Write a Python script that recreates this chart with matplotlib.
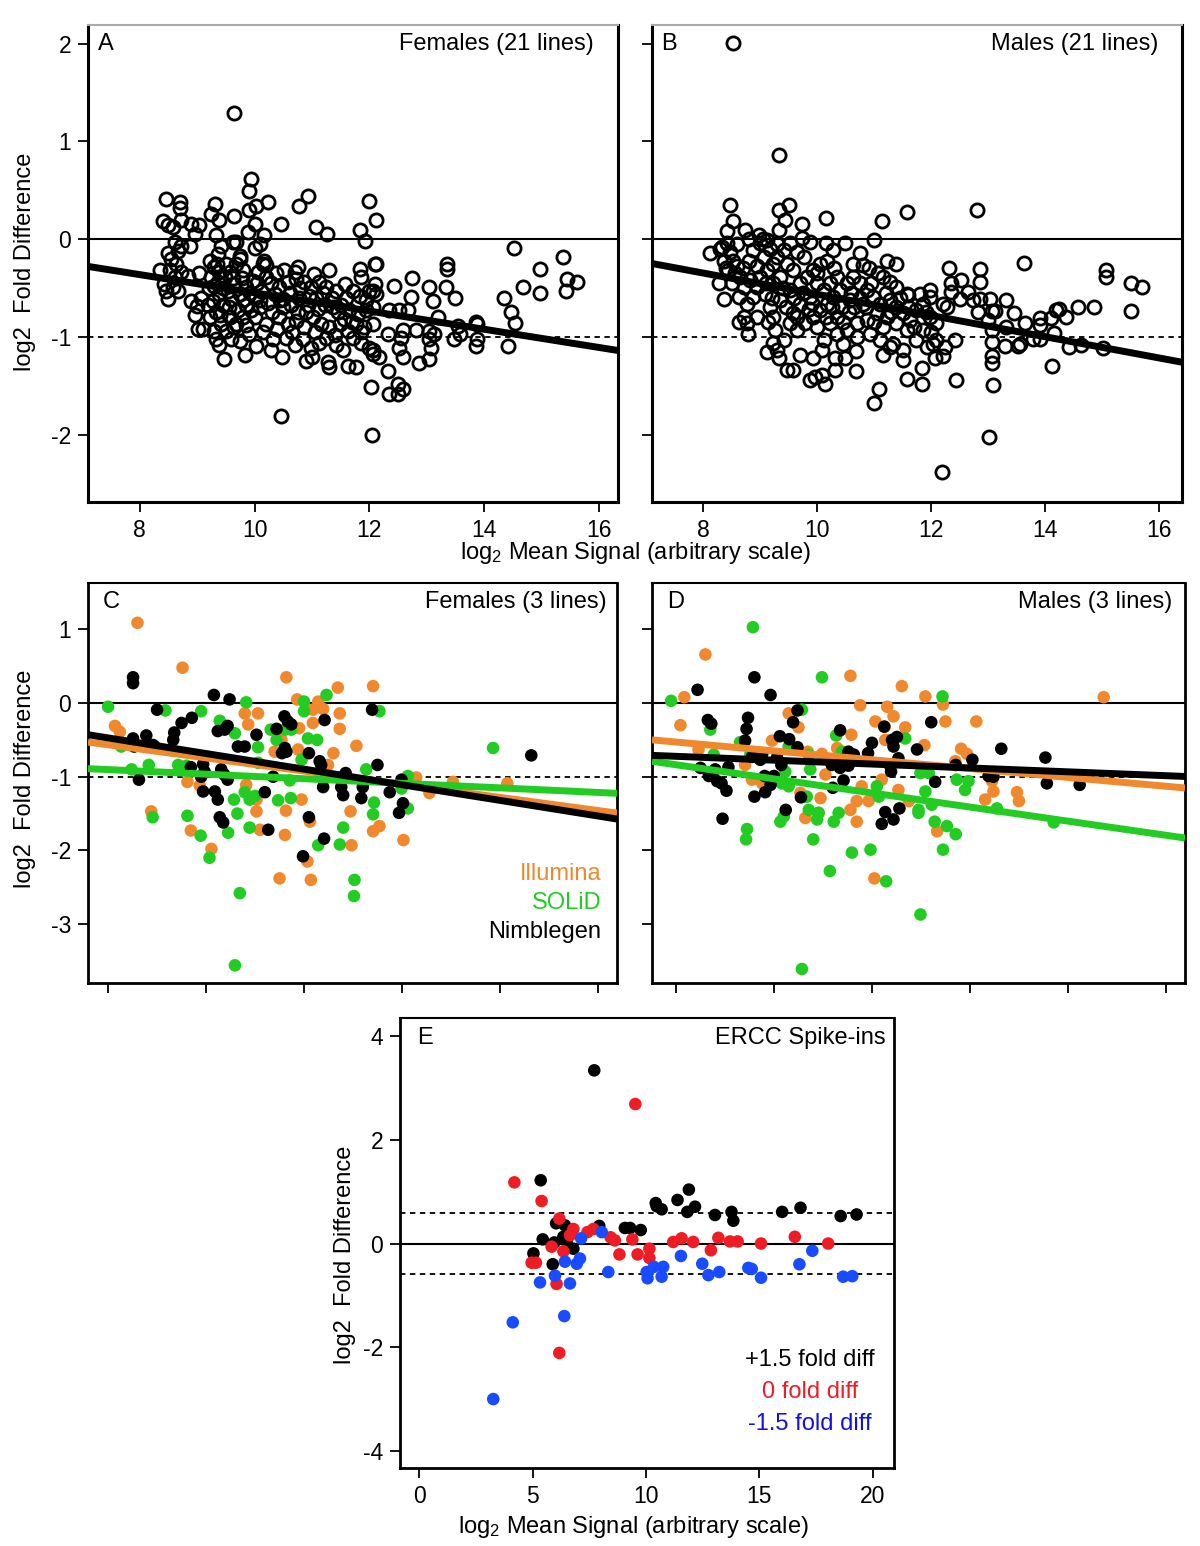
import matplotlib
matplotlib.use('Agg')
import matplotlib.pyplot as plt
import numpy as np

plt.rcParams['font.family'] = ['Liberation Sans', 'DejaVu Sans']
plt.rcParams['mathtext.fontset'] = 'custom'
plt.rcParams['mathtext.rm'] = 'Liberation Sans'
plt.rcParams['mathtext.it'] = 'Liberation Sans:italic'
plt.rcParams['axes.unicode_minus'] = False

# ---------------- Panel A: Females (21 lines) ----------------
females21 = [
    (9.64, 1.29), (9.93, 0.61), (9.90, 0.49), (8.45, 0.41), (8.70, 0.38), (8.70, 0.32),
    (9.32, 0.36), (10.23, 0.38), (10.93, 0.44), (10.77, 0.34), (12.00, 0.39), (9.25, 0.26),
    (9.39, 0.20), (9.64, 0.24), (9.91, 0.30), (10.03, 0.34), (10.46, 0.15), (8.41, 0.18),
    (8.49, 0.14), (8.58, 0.12), (8.72, 0.19), (8.90, 0.15), (9.04, 0.14), (8.96, 0.05),
    (9.33, 0.04), (10.00, 0.15), (9.88, 0.07), (10.17, 0.04), (11.07, 0.12), (11.26, 0.05),
    (11.83, 0.09), (11.92, -0.02), (12.12, 0.19), (8.61, -0.03), (8.72, -0.07), (8.49, -0.14),
    (8.88, -0.07), (9.42, -0.07), (9.62, -0.03), (9.68, -0.03), (10.00, -0.09), (10.09, -0.05),
    (9.36, -0.15), (9.74, -0.17), (8.35, -0.32), (8.52, -0.32), (8.64, -0.26), (8.43, -0.46),
    (8.58, -0.49), (8.49, -0.61), (8.67, -0.53), (8.84, -0.38), (9.03, -0.35), (8.90, -0.63),
    (8.96, -0.78), (9.01, -0.92), (9.10, -0.92), (9.22, -0.80), (9.33, -1.02), (9.39, -1.08),
    (9.47, -1.23), (9.83, -1.19), (10.02, -1.09), (10.29, -1.13), (10.48, -1.21), (10.46, -1.81),
    (10.89, -1.25), (11.00, -1.21), (11.28, -1.26), (11.30, -1.31), (11.62, -1.30), (11.76, -1.31),
    (12.03, -1.51), (12.05, -2.00), (11.83, -0.31), (11.86, -0.39), (12.09, -0.26), (11.30, -0.32),
    (11.04, -0.36), (10.52, -0.32), (10.75, -0.29), (10.70, -0.34), (10.17, -0.22), (10.20, -0.27),
    (8.55, -0.20), (8.67, -0.12), (8.61, -0.39), (8.46, -0.53), (8.72, -0.34),
    (14.52, -0.09), (15.37, -0.18), (14.97, -0.31), (15.45, -0.41), (15.62, -0.44), (15.42, -0.53),
    (14.67, -0.49), (14.97, -0.55), (14.35, -0.60), (14.46, -0.75), (14.53, -0.86), (14.42, -1.09),
    (13.35, -0.25), (13.35, -0.31), (13.34, -0.49), (13.49, -0.60), (13.04, -0.49), (13.10, -0.63),
    (12.75, -0.40), (12.72, -0.59), (12.43, -0.48), (12.12, -0.25), (12.09, -0.46), (12.06, -0.53),
    (13.19, -0.80), (13.86, -0.85), (13.87, -1.02), (13.86, -1.09), (13.48, -1.02), (13.57, -0.97),
    (13.04, -0.94), (13.13, -0.97), (13.04, -1.02), (13.07, -1.11), (13.03, -1.23), (12.81, -0.93),
    (12.58, -0.93), (12.55, -1.01), (12.52, -1.11), (12.58, -1.21), (12.32, -0.97), (12.17, -1.21),
    (12.06, -1.14), (12.32, -1.35), (12.49, -1.48), (12.59, -1.53), (12.35, -1.59), (12.49, -1.59),
    (12.86, -1.27), (12.35, -0.73), (12.52, -0.73), (12.67, -0.73), (13.54, -0.89), (13.88, -0.87),
    # dense cluster
    (9.22, -0.22), (9.30, -0.29), (9.39, -0.34), (9.25, -0.39), (9.36, -0.44), (9.48, -0.39),
    (9.57, -0.34), (9.68, -0.26), (9.74, -0.20), (9.80, -0.32), (9.65, -0.46), (9.54, -0.53),
    (9.39, -0.56), (9.28, -0.63), (9.45, -0.67), (9.59, -0.61), (9.74, -0.56), (9.86, -0.49),
    (9.97, -0.43), (10.06, -0.34), (10.14, -0.26), (10.20, -0.39), (10.12, -0.53), (10.00, -0.60),
    (9.86, -0.67), (9.71, -0.73), (9.57, -0.80), (9.42, -0.87), (9.30, -0.94), (9.51, -0.94),
    (9.68, -0.87), (9.80, -0.80), (9.94, -0.73), (10.09, -0.70), (10.23, -0.65), (10.35, -0.56),
    (10.43, -0.49), (10.58, -0.44), (10.72, -0.41), (10.87, -0.44), (10.99, -0.49), (11.13, -0.44),
    (11.25, -0.49), (11.42, -0.53), (11.57, -0.46), (11.71, -0.53), (11.83, -0.58), (12.00, -0.53),
    (12.12, -0.56), (10.49, -0.61), (10.64, -0.67), (10.78, -0.60), (10.93, -0.67), (11.07, -0.60),
    (11.22, -0.67), (11.36, -0.70), (11.51, -0.67), (11.65, -0.73), (11.80, -0.77), (11.94, -0.73),
    (12.06, -0.70), (10.43, -0.80), (10.58, -0.87), (10.72, -0.84), (10.87, -0.90), (11.01, -0.80),
    (11.16, -0.87), (11.30, -0.90), (11.48, -0.87), (11.62, -0.94), (11.77, -0.87), (11.91, -0.90),
    (12.06, -0.87), (10.55, -1.01), (10.70, -1.08), (10.84, -1.02), (10.99, -1.11), (11.13, -1.06),
    (11.25, -1.01), (11.42, -1.08), (11.54, -1.13), (11.71, -1.01), (11.86, -1.06), (12.00, -1.11),
    (12.06, -1.18), (10.20, -0.87), (10.32, -1.02), (9.91, -0.97), (9.74, -1.04), (9.59, -1.02),
    (9.33, -0.75), (9.19, -0.67), (9.07, -0.60), (8.99, -0.68),
    (9.30, -0.48), (9.45, -0.50), (9.50, -0.25), (9.62, -0.40), (9.78, -0.40), (9.92, -0.55),
    (10.05, -0.45), (10.28, -0.45), (10.38, -0.35), (10.30, -0.75), (10.50, -0.70), (10.62, -0.55),
    (10.80, -0.50), (10.95, -0.58), (11.10, -0.72), (11.20, -0.55), (11.35, -0.60), (11.45, -0.75),
    (11.60, -0.60), (11.70, -0.85), (11.85, -0.95), (11.95, -0.62), (10.65, -0.95), (10.90, -0.75),
    (11.05, -0.95), (11.40, -0.98), (11.55, -0.82), (9.55, -0.70), (9.40, -0.78), (9.65, -0.90),
    (9.85, -0.88), (10.00, -0.80), (10.15, -0.95), (10.40, -0.92), (9.20, -0.50), (9.35, -0.25),
    (9.80, -0.62), (10.10, -0.62), (10.45, -0.62), (10.75, -0.75),
]
females21_fit = (0.382, -0.0932)  # intercept, slope

# ---------------- Panel B: Males (21 lines) ----------------
males21 = [
    (8.52, 2.01), (9.33, 0.86), (8.47, 0.35), (8.52, 0.18), (9.33, 0.30), (9.51, 0.35),
    (9.44, 0.19), (9.32, 0.09), (9.73, 0.15), (10.15, 0.22), (11.14, 0.18), (11.58, 0.28),
    (11.00, -0.01), (8.74, 0.09), (8.41, 0.08), (8.12, -0.14), (8.30, -0.10), (8.97, 0.04),
    (9.12, -0.01), (9.73, 0.01), (9.87, -0.03), (10.15, -0.04), (10.28, -0.11), (10.48, -0.04),
    (10.75, -0.14), (10.63, -0.25), (10.80, -0.27), (11.22, -0.22), (11.39, -0.25), (11.07, -0.35),
    (11.28, -0.44), (11.60, -0.57), (11.98, -0.52), (8.27, -0.45), (8.36, -0.61), (8.62, -0.85),
    (8.79, -0.97), (9.14, -0.85), (9.23, -0.80), (9.12, -1.16), (9.23, -1.06), (9.32, -1.22),
    (9.47, -1.34), (9.58, -1.34), (9.70, -1.19), (9.87, -1.44), (9.96, -1.41), (10.08, -1.39),
    (10.14, -1.48), (9.93, -1.22), (10.08, -1.14), (10.31, -1.34), (10.31, -1.22), (10.49, -1.22),
    (10.68, -1.15), (10.68, -1.35), (11.09, -1.53), (11.00, -1.68), (11.16, -1.19), (11.28, -1.10),
    (11.51, -1.24), (11.57, -1.43), (11.84, -1.48), (11.84, -1.32), (12.18, -2.38),
    (12.80, 0.30), (13.63, -0.24), (12.31, -0.30), (12.85, -0.31), (15.06, -0.32), (15.06, -0.39),
    (15.51, -0.45), (15.70, -0.49), (15.51, -0.74), (12.53, -0.42), (12.35, -0.45), (12.85, -0.44),
    (12.35, -0.54), (12.65, -0.54), (12.73, -0.62), (12.85, -0.61), (13.03, -0.61), (13.31, -0.62),
    (12.21, -0.66), (12.27, -0.69), (12.50, -0.61), (12.82, -0.75), (13.06, -0.74), (13.11, -0.74),
    (13.46, -0.76), (14.57, -0.69), (14.85, -0.70), (14.19, -0.73), (14.25, -0.72), (14.36, -0.80),
    (13.90, -0.81), (14.11, -0.81), (13.90, -0.88), (13.64, -0.86), (13.31, -0.90), (13.06, -0.93),
    (13.00, -0.83), (14.15, -0.96), (13.79, -1.02), (13.90, -1.02), (13.29, -1.09), (13.52, -1.09),
    (13.55, -1.07), (13.06, -1.05), (14.42, -1.10), (14.63, -1.08), (15.01, -1.11), (13.06, -1.20),
    (13.07, -1.27), (14.12, -1.30), (12.43, -1.44), (13.08, -1.49), (13.01, -2.03), (12.03, -1.07),
    (12.21, -1.20), (12.06, -1.22), (12.41, -1.03), (12.24, -1.10),
    # dense cluster
    (8.33, -0.08), (8.41, -0.04), (8.47, -0.13), (8.36, -0.22), (8.53, -0.22), (8.44, -0.32),
    (8.59, -0.28), (8.65, -0.39), (8.50, -0.45), (8.71, -0.49), (8.62, -0.59), (8.76, -0.66),
    (8.88, -0.59), (8.94, -0.49), (8.82, -0.42), (9.00, -0.39), (9.11, -0.32), (9.23, -0.25),
    (9.06, -0.18), (8.88, -0.11), (9.00, -0.04), (9.17, -0.10), (9.29, -0.18), (9.41, -0.11),
    (9.52, -0.04), (9.64, -0.13), (9.76, -0.18), (9.47, -0.25), (9.58, -0.32), (9.35, -0.39),
    (9.23, -0.45), (9.09, -0.56), (9.17, -0.69), (9.35, -0.62), (9.52, -0.52), (9.70, -0.45),
    (9.82, -0.39), (9.93, -0.32), (10.05, -0.25), (10.17, -0.22), (9.87, -0.59), (9.70, -0.66),
    (9.58, -0.76), (9.52, -0.86), (9.64, -0.93), (9.79, -0.86), (9.93, -0.80), (10.05, -0.73),
    (10.17, -0.66), (10.28, -0.59), (10.40, -0.52), (10.52, -0.45), (10.63, -0.39), (10.75, -0.45),
    (10.87, -0.52), (10.98, -0.59), (11.10, -0.66), (11.27, -0.62), (11.39, -0.69), (11.51, -0.76),
    (11.63, -0.83), (11.74, -0.73), (11.86, -0.66), (11.98, -0.80), (12.09, -0.86), (11.86, -0.93),
    (11.74, -1.03), (11.57, -0.93), (11.39, -0.86), (11.22, -0.80), (11.04, -0.76), (10.87, -0.83),
    (10.69, -0.86), (10.52, -0.93), (10.34, -0.97), (10.22, -0.86), (10.11, -1.03), (10.46, -1.07),
    (10.69, -1.00), (10.92, -0.97), (11.10, -1.03), (11.33, -1.07), (11.51, -1.14), (11.92, -1.10),
    (12.09, -1.03), (10.43, -0.69), (10.57, -0.62), (10.81, -0.66), (10.95, -0.45), (11.16, -0.39),
    (11.39, -0.49), (11.57, -0.56), (11.80, -0.56), (11.98, -0.59), (10.34, -0.39), (10.22, -0.45),
    (10.11, -0.52), (9.99, -0.45), (8.71, -0.80), (8.94, -0.80), (9.26, -0.93), (9.41, -1.03),
    (9.29, -1.14), (8.76, -0.86),
    (8.40, -0.30), (8.55, -0.35), (8.70, -0.30), (8.80, -0.22), (8.95, -0.28), (9.10, -0.45),
    (9.20, -0.60), (9.40, -0.50), (9.60, -0.60), (9.75, -0.55), (9.90, -0.65), (10.00, -0.90),
    (10.15, -0.80), (10.25, -0.70), (10.35, -0.80), (10.45, -0.85), (10.55, -0.75), (10.65, -0.70),
    (10.75, -0.60), (10.85, -0.70), (11.00, -0.85), (11.15, -0.90), (11.30, -0.75), (11.45, -0.60),
    (11.60, -0.70), (11.70, -0.90), (11.90, -0.75), (12.00, -0.95), (9.45, -0.70), (9.65, -0.80),
    (9.85, -0.72), (10.00, -0.35), (10.30, -0.30), (10.60, -0.55), (10.90, -0.30), (11.20, -0.55),
    (8.60, -0.05), (8.80, 0.00), (9.05, 0.00), (9.30, -0.05),
]
males21_fit = (0.521, -0.1086)

# ---------------- Panel C: Females (3 lines) ----------------
fem3_illumina = [
    (6.60, 1.09), (7.52, 0.48), (9.64, 0.35), (10.69, 0.21), (11.41, 0.23), (9.86, 0.05),
    (10.29, 0.02), (8.79, -0.14), (9.06, -0.14), (8.86, -0.29), (10.18, -0.09), (10.39, -0.08),
    (10.73, -0.14), (10.73, -0.35), (9.90, -0.34), (10.18, -0.27), (6.14, -0.31), (6.24, -0.39),
    (9.88, -0.63), (11.07, -0.58), (10.60, -0.68), (9.40, -0.66), (9.54, -0.50), (10.49, -0.84),
    (12.29, -1.01), (13.04, -1.07), (14.15, -1.09), (12.56, -1.22), (7.62, -1.07), (7.87, -1.12),
    (8.82, -1.11), (9.03, -1.31), (6.88, -1.47), (7.69, -1.73), (8.11, -1.98), (9.03, -1.47),
    (9.10, -1.72), (9.61, -1.79), (9.63, -1.46), (9.95, -1.31), (10.12, -1.61), (10.07, -2.15),
    (9.50, -2.38), (10.14, -2.40), (10.97, -1.93), (10.95, -1.47), (11.41, -1.74), (11.54, -1.67),
    (12.03, -1.86),
]
fem3_solid = [
    (6.00, -0.05), (7.17, -0.10), (7.90, -0.11), (8.82, 0.01), (10.46, 0.11), (10.00, 0.02),
    (10.00, -0.11), (11.54, -0.11), (8.28, -0.24), (8.59, -0.41), (9.06, -0.60), (9.32, -0.36),
    (9.44, -0.50), (9.61, -0.36), (9.74, -0.36), (10.08, -0.48), (10.27, -0.50), (9.95, -0.77),
    (6.27, -0.59), (6.48, -0.90), (6.83, -0.84), (7.43, -0.84), (7.60, -0.85), (9.06, -0.81),
    (11.27, -0.90), (12.12, -0.99), (13.86, -0.61), (9.71, -1.05), (8.79, -1.21), (8.89, -1.31),
    (9.00, -1.26), (9.47, -1.32), (9.73, -1.29), (8.57, -1.31), (8.64, -1.50), (7.62, -1.53),
    (6.91, -1.55), (7.89, -1.80), (8.45, -1.76), (8.89, -1.69), (8.07, -2.10), (8.69, -2.58),
    (8.59, -3.56), (10.29, -1.93), (10.73, -1.92), (10.80, -1.69), (11.03, -2.40), (11.02, -2.62),
    (11.43, -1.35), (11.41, -1.51), (11.99, -1.16), (12.12, -1.43),
]
fem3_nimblegen = [
    (6.51, 0.35), (6.51, 0.27), (8.16, 0.11), (8.48, 0.05), (7.00, -0.09), (11.39, -0.09),
    (7.50, -0.27), (7.71, -0.20), (9.60, -0.18), (9.67, -0.25), (9.74, -0.29), (10.42, -0.23),
    (8.24, -0.38), (8.38, -0.36), (8.44, -0.31), (9.03, -0.43), (9.44, -0.35), (7.35, -0.40),
    (7.33, -0.50), (6.51, -0.48), (6.53, -0.59), (6.78, -0.44), (6.92, -0.57), (6.95, -0.59),
    (8.65, -0.59), (8.79, -0.59), (9.61, -0.61), (9.55, -0.68), (9.64, -0.66), (10.10, -0.68),
    (10.32, -0.79), (10.35, -0.84), (11.50, -0.84), (7.69, -0.87), (7.94, -0.83), (7.97, -0.93),
    (7.90, -1.00), (8.31, -0.90), (8.37, -0.97), (8.44, -1.04), (6.63, -1.04), (9.37, -1.00),
    (10.85, -0.95), (10.39, -1.14), (10.76, -1.14), (10.80, -1.25), (11.20, -1.14), (11.17, -1.29),
    (11.75, -1.21), (11.99, -1.04), (12.02, -1.36), (11.94, -1.49), (7.94, -1.20), (8.18, -1.20),
    (8.24, -1.31), (9.20, -1.21), (8.28, -1.55), (8.35, -1.62), (9.27, -1.72), (10.10, -1.55),
    (10.41, -1.84), (9.98, -2.08), (14.64, -0.71),
]
fem3_fits = {'Illumina': (-0.031, -0.0892), 'SOLiD': (-0.717, -0.031), 'Nimblegen': (0.163, -0.106)}

# ---------------- Panel D: Males (3 lines) ----------------
male3_illumina = [
    (6.60, 0.66), (6.17, 0.08), (9.56, 0.37), (10.61, 0.23), (11.09, 0.09), (14.73, 0.08),
    (11.45, -0.02), (9.76, -0.03), (10.31, -0.05), (8.30, -0.14), (6.09, -0.30), (10.44, -0.18),
    (10.07, -0.25), (10.26, -0.32), (10.68, -0.33), (11.50, -0.25), (12.13, -0.25), (8.50, -0.33),
    (9.58, -0.43), (7.96, -0.51), (6.46, -0.63), (9.29, -0.61), (11.07, -0.57), (11.82, -0.62),
    (10.27, -0.50), (8.69, -0.66), (8.98, -0.69), (11.94, -0.69), (11.70, -0.79), (7.41, -0.84),
    (7.55, -1.04), (7.76, -1.09), (9.05, -0.97), (10.20, -1.04), (12.45, -1.06), (12.48, -1.20),
    (12.96, -1.21), (13.00, -1.33), (12.31, -1.31), (9.79, -1.13), (10.54, -1.18), (10.75, -1.33),
    (9.69, -1.33), (9.93, -1.33), (9.56, -1.45), (8.95, -1.29), (8.91, -1.49), (8.64, -1.56),
    (9.69, -1.61), (11.33, -1.74), (10.05, -2.38), (8.54, -1.22),
]
male3_solid = [
    (7.57, 1.03), (8.98, 0.35), (5.90, 0.03), (11.44, 0.09), (8.57, -0.09), (9.27, -0.44),
    (10.68, -0.48), (6.70, -0.36), (7.31, -0.53), (6.77, -0.70), (7.52, -0.69), (8.30, -0.59),
    (8.71, -0.70), (8.74, -0.90), (9.39, -0.66), (8.23, -0.93), (8.30, -1.13), (8.16, -1.09),
    (10.99, -0.95), (11.16, -0.95), (11.73, -1.04), (11.97, -1.06), (11.90, -1.18), (10.10, -1.13),
    (10.14, -1.27), (11.09, -1.20), (11.22, -1.38), (10.95, -1.45), (10.95, -1.49), (12.55, -1.43),
    (8.67, -1.27), (8.71, -1.45), (8.91, -1.49), (8.88, -1.58), (8.20, -1.54), (8.13, -1.61),
    (9.32, -1.49), (9.22, -1.61), (11.28, -1.61), (11.53, -1.67), (11.71, -1.78), (13.71, -1.62),
    (7.45, -1.71), (7.43, -1.85), (8.80, -1.85), (9.59, -2.03), (9.97, -1.99), (11.45, -1.99),
    (9.14, -2.28), (10.29, -2.42), (10.99, -2.87), (8.57, -3.61),
]
male3_nimblegen = [
    (6.44, 0.18), (7.60, 0.35), (7.93, 0.11), (8.48, -0.10), (6.65, -0.23), (6.72, -0.28),
    (7.47, -0.20), (7.44, -0.35), (7.41, -0.51), (8.39, -0.26), (8.12, -0.45), (8.31, -0.49),
    (8.48, -0.60), (9.35, -0.37), (10.25, -0.32), (11.21, -0.26), (10.41, -0.50), (10.51, -0.46),
    (10.44, -0.59), (10.00, -0.54), (10.92, -0.63), (12.64, -0.62), (13.54, -0.74), (7.55, -0.73),
    (7.76, -0.69), (7.72, -0.77), (8.06, -0.74), (8.15, -0.84), (9.52, -0.66), (9.63, -0.70),
    (9.46, -0.75), (9.92, -0.68), (9.18, -0.84), (9.35, -0.88), (9.52, -0.85), (10.37, -0.85),
    (10.54, -0.75), (10.39, -0.93), (11.71, -0.84), (12.05, -0.77), (6.50, -0.88), (6.67, -0.99),
    (6.80, -0.90), (7.07, -0.87), (6.84, -1.06), (6.93, -1.09), (7.03, -1.19), (7.81, -0.99),
    (8.00, -0.99), (9.42, -1.05), (12.38, -0.99), (12.48, -1.00), (13.57, -1.09), (14.24, -1.11),
    (11.29, -1.07), (7.93, -1.11), (7.82, -1.21), (7.60, -1.27), (9.20, -1.15), (8.55, -1.28),
    (8.24, -1.45), (6.95, -1.57), (10.27, -1.48), (10.44, -1.58), (10.20, -1.64), (10.56, -1.43),
]
male3_fits = {'Illumina': (-0.169, -0.060), 'SOLiD': (-0.263, -0.0957), 'Nimblegen': (-0.565, -0.0263)}

# ---------------- Panel E: ERCC spike-ins ----------------
ercc_plus = [
    (7.72, 3.34), (5.36, 1.22), (11.89, 1.04), (10.43, 0.78), (10.47, 0.72), (10.69, 0.66),
    (11.39, 0.84), (11.82, 0.61), (12.16, 0.71), (13.04, 0.55), (13.77, 0.61), (13.85, 0.44),
    (16.00, 0.61), (16.81, 0.69), (18.58, 0.53), (19.28, 0.56), (6.04, 0.39), (6.43, 0.35),
    (7.94, 0.34), (9.07, 0.30), (9.30, 0.30), (9.77, 0.26), (5.45, 0.08), (5.96, 0.02),
    (6.36, 0.13), (6.50, 0.04), (6.80, -0.10), (5.04, -0.19), (5.89, -0.40),
]
ercc_zero = [
    (9.53, 2.69), (4.20, 1.18), (5.40, 0.82), (6.18, 0.48), (6.80, 0.28), (6.65, 0.16),
    (7.42, 0.22), (7.68, 0.28), (8.44, 0.12), (8.63, 0.06), (9.40, 0.08), (11.20, 0.03),
    (11.57, 0.10), (12.08, 0.03), (13.19, 0.11), (13.70, 0.04), (14.04, 0.04), (15.07, 0.00),
    (16.56, 0.13), (18.03, 0.00), (5.84, -0.06), (6.36, -0.15), (8.83, -0.21), (9.63, -0.21),
    (10.15, -0.10), (10.15, -0.28), (12.86, -0.13), (4.96, -0.37), (5.15, -0.37), (6.06, -0.78),
    (6.18, -2.11),
]
ercc_minus = [
    (3.27, -3.00), (4.13, -1.52), (6.40, -1.40), (5.33, -0.75), (5.99, -0.62), (6.65, -0.77),
    (6.43, -0.35), (6.95, -0.39), (7.09, -0.29), (7.14, 0.10), (8.05, 0.22), (8.34, -0.55),
    (10.03, -0.55), (10.07, -0.67), (10.35, -0.45), (10.76, -0.45), (10.69, -0.64), (11.54, -0.24),
    (12.48, -0.39), (12.75, -0.61), (13.23, -0.55), (14.51, -0.47), (14.66, -0.49), (15.07, -0.66),
    (16.76, -0.40), (17.33, -0.14), (18.69, -0.64), (19.09, -0.63),
]
fold_threshold = np.log2(1.5)

# tick labels
ab_xticks = [8, 10, 12, 14, 16]
ab_yticks = [-2, -1, 0, 1, 2]
cd_xticks = [6, 8, 10, 12, 14, 16]
cd_yticks = [-3, -2, -1, 0, 1]
e_xticks = [0, 5, 10, 15, 20]
e_yticks = [-4, -2, 0, 2, 4]

# ---------------- Drawing ----------------
ORANGE = '#F0892E'
GREEN = '#22CC22'
RED = '#EE1C25'
BLUE = '#1A4CFF'
FS = 17
TFS = 16.5

W, H = 1200, 1546
fig = plt.figure(figsize=(W / 100, H / 100), dpi=100)


def box(l, t, r, b):
    return [l / W, 1 - b / H, (r - l) / W, (b - t) / H]


axA = fig.add_axes(box(88, 25, 618, 502))
axB = fig.add_axes(box(652, 25, 1182, 502))
axC = fig.add_axes(box(88, 583, 617, 983))
axD = fig.add_axes(box(652, 583, 1185, 983))
axE = fig.add_axes(box(400, 1018, 894, 1468))


def style(ax, top='black', lw=2.2):
    for s in ['left', 'right', 'bottom']:
        ax.spines[s].set_linewidth(lw)
    ax.spines['top'].set_color(top)
    ax.spines['top'].set_linewidth(1.5)
    ax.tick_params(direction='out', length=7, width=1.3, labelsize=TFS, pad=5)


def xy(pts):
    a = np.array(pts)
    return a[:, 0], a[:, 1]


def hlines(ax, dashed):
    ax.axhline(0, color='black', lw=1.5, zorder=1)
    for d in dashed:
        ax.axhline(d, color='black', lw=1.3, ls=(0, (3, 2.5)), zorder=1)


def fitline(ax, coef, color, lw, z=5):
    xs = np.array(ax.get_xlim())
    ax.plot(xs, coef[0] + coef[1] * xs, color=color, lw=lw, solid_capstyle='butt', zorder=z)


# Panels A & B
for ax, pts, fit, letter, title, lim in [
        (axA, females21, females21_fit, 'A', 'Females (21 lines)', (7.1, 16.33)),
        (axB, males21, males21_fit, 'B', 'Males (21 lines)', (7.1, 16.4))]:
    style(ax, top='#AAAAAA')
    ax.set_xlim(*lim)
    ax.set_ylim(-2.69, 2.19)
    hlines(ax, [-1])
    x, y = xy(pts)
    ax.plot(x, y, 'o', ls='none', mfc='none', mec='black', ms=9.5, mew=2.0, zorder=3)
    fitline(ax, fit, 'black', 5)
    ax.set_xticks(ab_xticks)
    ax.set_yticks(ab_yticks)
    ax.text(0.018, 0.96, letter, transform=ax.transAxes, fontsize=FS, va='center', ha='left')
    ax.text(0.955, 0.96, title, transform=ax.transAxes, fontsize=FS, va='center', ha='right')
axB.set_yticklabels([])

# Panels C & D
for ax, groups, fits, letter, title, lim, tx in [
        (axC, [fem3_illumina, fem3_solid, fem3_nimblegen], fem3_fits, 'C', 'Females (3 lines)', (5.59, 16.39), 0.981),
        (axD, [male3_illumina, male3_solid, male3_nimblegen], male3_fits, 'D', 'Males (3 lines)', (5.51, 16.39), 0.976)]:
    style(ax, lw=2.0)
    ax.set_xlim(*lim)
    ax.set_ylim(-3.80, 1.63)
    hlines(ax, [-1])
    for pts, col in zip(groups, [ORANGE, GREEN, 'black']):
        x, y = xy(pts)
        ax.scatter(x, y, s=82, color=col, edgecolors='none', zorder=3)
    fitline(ax, fits['Illumina'], ORANGE, 5)
    fitline(ax, fits['SOLiD'], GREEN, 5)
    fitline(ax, fits['Nimblegen'], 'black', 5)
    ax.set_xticks(cd_xticks)
    ax.set_xticklabels([])
    ax.set_yticks(cd_yticks)
    ax.text(0.028, 0.953, letter, transform=ax.transAxes, fontsize=FS, va='center', ha='left')
    ax.text(tx, 0.953, title, transform=ax.transAxes, fontsize=FS, va='center', ha='right')
axD.set_yticklabels([])
axC.text(0.970, 0.2725, 'Illumina', color=ORANGE, transform=axC.transAxes, fontsize=FS, ha='right', va='center')
axC.text(0.970, 0.200, 'SOLiD', color=GREEN, transform=axC.transAxes, fontsize=FS, ha='right', va='center')
axC.text(0.970, 0.1275, 'Nimblegen', color='black', transform=axC.transAxes, fontsize=FS, ha='right', va='center')

# Panel E
style(axE, lw=2.0)
axE.set_xlim(-0.84, 20.93)
axE.set_ylim(-4.33, 4.35)
hlines(axE, [fold_threshold, -fold_threshold])
for pts, col in [(ercc_plus, 'black'), (ercc_zero, RED), (ercc_minus, BLUE)]:
    x, y = xy(pts)
    axE.scatter(x, y, s=82, color=col, edgecolors='none', zorder=3)
axE.set_xticks(e_xticks)
axE.set_yticks(e_yticks)
axE.text(0.034, 0.956, 'E', transform=axE.transAxes, fontsize=FS, va='center', ha='left')
axE.text(0.984, 0.956, 'ERCC Spike-ins', transform=axE.transAxes, fontsize=FS, va='center', ha='right')
axE.text(0.83, 0.240, '+1.5 fold diff', color='black', transform=axE.transAxes, fontsize=FS, ha='center', va='center')
axE.text(0.83, 0.169, '0 fold diff', color=RED, transform=axE.transAxes, fontsize=FS, ha='center', va='center')
axE.text(0.83, 0.098, '-1.5 fold diff', color='#1010E8', transform=axE.transAxes, fontsize=FS, ha='center', va='center')

# Axis titles
ylab = 'log2  Fold Difference'
fig.text(25 / W, 1 - 262 / H, ylab, rotation=90, ha='center', va='center', fontsize=FS)
fig.text(25 / W, 1 - 779 / H, ylab, rotation=90, ha='center', va='center', fontsize=FS)
fig.text(345 / W, 1 - 1255 / H, ylab, rotation=90, ha='center', va='center', fontsize=FS)
xlab = r'log$_2$ Mean Signal (arbitrary scale)'
fig.text(635 / W, 1 - 553 / H, xlab, ha='center', va='center', fontsize=FS)
fig.text(633 / W, 1 - 1527 / H, xlab, ha='center', va='center', fontsize=FS)

fig.savefig('out.png', dpi=100)
